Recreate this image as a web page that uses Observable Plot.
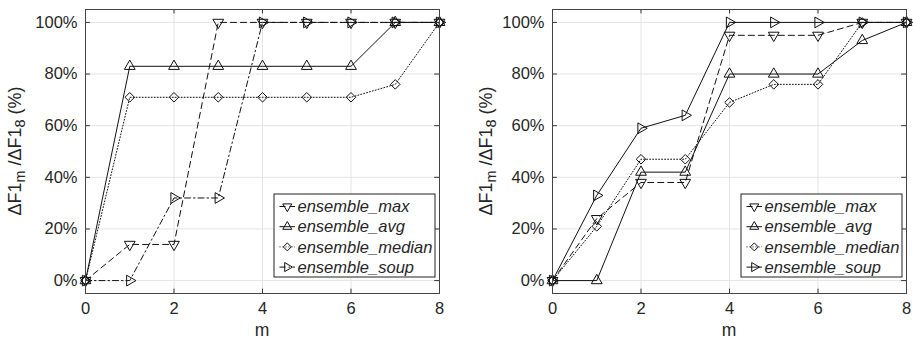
<!DOCTYPE html>
<html><head><meta charset="utf-8">
<script src="https://cdn.jsdelivr.net/npm/d3@7"></script>
<script src="https://cdn.jsdelivr.net/npm/@observablehq/plot@0.6"></script>
<style>
body{margin:0;background:#fff;}
#wrap{display:flex;width:913px;height:339px;overflow:hidden;}
</style></head><body><div id="wrap"></div>
<script>
const mValues = [0, 1, 2, 3, 4, 5, 6, 7, 8];
const seriesNames = ["ensemble_max", "ensemble_avg", "ensemble_median", "ensemble_soup"];
const leftMax    = [0, 14, 14, 100, 100, 100, 100, 100, 100];
const leftAvg    = [0, 83, 83, 83, 83, 83, 83, 100, 100];
const leftMedian = [0, 71, 71, 71, 71, 71, 71, 76, 100];
const leftSoup   = [0, 0, 32, 32, 100, 100, 100, 100, 100];
const rightMax    = [0, 24, 38, 38, 95, 95, 95, 100, 100];
const rightAvg    = [0, 0, 42, 42, 80, 80, 80, 93, 100];
const rightMedian = [0, 21, 47, 47, 69, 76, 76, 100, 100];
const rightSoup   = [0, 33, 59, 64, 100, 100, 100, 100, 100];
const xTicks = [0, 2, 4, 6, 8];
const yTicks = [0, 20, 40, 60, 80, 100];
const xLabel = "m";

const baseStyles = {
  ensemble_max:    {symbol: "triangle", rotate: 180, dash: "6,4", r: 4},
  ensemble_avg:    {symbol: "triangle", rotate: 0, dash: null, r: 4},
  ensemble_median: {symbol: "diamond2", rotate: 0, dash: "1,2", r: 4.3},
  ensemble_soup:   {symbol: "triangle", rotate: 90, dash: "6,3,1.5,3", r: 4}
};
const leftStyles = baseStyles;
const rightStyles = {...baseStyles, ensemble_soup: {...baseStyles.ensemble_soup, dash: null}};
const FONT = "'Liberation Sans', Arial, Helvetica, sans-serif";
const TXT = "#262626";

function makePanel(vals, styles, width, ml, mr, ylabX) {
  const yDom = [-5, 105], xDom = [0, 8];
  const marks = [
    Plot.gridX(xTicks, {stroke: "#e4e4e4", strokeOpacity: 1}),
    Plot.gridY(yTicks, {stroke: "#e4e4e4", strokeOpacity: 1})
  ];
  seriesNames.forEach((name, i) => {
    const data = mValues.map((m, j) => ({m, v: vals[i][j]}));
    const s = styles[name];
    marks.push(Plot.line(data, {x: "m", y: "v", stroke: "#111", strokeWidth: 1, strokeDasharray: s.dash}));
    marks.push(Plot.dot(data, {x: "m", y: "v", symbol: s.symbol, rotate: s.rotate, r: s.r, stroke: "#111", strokeWidth: 1, fill: "none"}));
  });
  marks.push(
    Plot.ruleX(xTicks, {x: d => d, y1: yDom[0], y2: yDom[0] + 1.7, stroke: "#333"}),
    Plot.ruleX(xTicks, {x: d => d, y1: yDom[1] - 1.7, y2: yDom[1], stroke: "#333"}),
    Plot.ruleY(yTicks, {y: d => d, x1: xDom[0], x2: xDom[0] + 0.11, stroke: "#333"}),
    Plot.ruleY(yTicks, {y: d => d, x1: xDom[1] - 0.11, x2: xDom[1], stroke: "#333"}),
    Plot.frame({stroke: "#444", strokeWidth: 1}),
    Plot.axisX(xTicks, {tickSize: 0, tickPadding: 9, label: null, fill: TXT}),
    Plot.axisY(yTicks, {tickSize: 0, tickPadding: 8, label: null, tickFormat: d => d + "%", fill: TXT})
  );
  const svg = Plot.plot({
    width, height: 339,
    marginLeft: ml, marginRight: mr, marginTop: 9, marginBottom: 46,
    x: {domain: xDom},
    y: {domain: yDom},
    style: {fontFamily: FONT, fontSize: "16.5px", color: TXT, background: "white", overflow: "visible"},
    marks
  });
  const xr = svg.scale("x").range, yr = svg.scale("y").range;
  const sel = d3.select(svg);
  // x label
  sel.append("text").attr("x", (xr[0] + xr[1]) / 2).attr("y", 336)
    .attr("text-anchor", "middle").attr("fill", TXT)
    .style("font-family", FONT).style("font-size", "17.5px").text(xLabel);
  // y label with subscripts
  const yl = sel.append("text")
    .attr("transform", `translate(${ylabX},${(yr[0] + yr[1]) / 2}) rotate(-90)`)
    .attr("text-anchor", "middle").attr("dominant-baseline", "central").attr("fill", TXT)
    .style("font-family", FONT).style("font-size", "18px");
  yl.append("tspan").text("ΔF1");
  yl.append("tspan").attr("dy", 5).style("font-size", "14.5px").text("m");
  yl.append("tspan").attr("dy", -5).text(" /ΔF1");
  yl.append("tspan").attr("dy", 5).style("font-size", "14.5px").text("8");
  yl.append("tspan").attr("dy", -5).text(" (%)");
  // legend
  const lw = 161, lh = 83;
  const lx = xr[1] - 4 - lw, ly = yr[0] - 16 - lh;
  const lg = sel.append("g").attr("transform", `translate(${lx},${ly})`).attr("text-anchor", "start");
  lg.append("rect").attr("width", lw).attr("height", lh).attr("fill", "white").attr("stroke", "#222").attr("stroke-width", 1);
  seriesNames.forEach((name, i) => {
    const s = styles[name];
    const cy = 12.5 + i * 20.2;
    lg.append("line").attr("x1", 5.5).attr("x2", 21).attr("y1", cy).attr("y2", cy)
      .attr("stroke", "#111").attr("stroke-width", 1).attr("stroke-dasharray", s.dash);
    const sym = s.symbol === "diamond2" ? d3.symbolDiamond2 : d3.symbolTriangle;
    lg.append("path").attr("d", d3.symbol(sym, s.r * s.r * Math.PI * 0.7)())
      .attr("transform", `translate(13.3,${cy}) rotate(${s.rotate})`)
      .attr("fill", "none").attr("stroke", "#111");
    lg.append("text").attr("x", 23.5).attr("y", cy).attr("dy", "0.35em").attr("text-anchor", "start")
      .attr("fill", TXT).style("font-family", FONT).style("font-size", "16.5px").style("font-style", "italic")
      .text(name);
  });
  return svg;
}

const wrap = document.getElementById("wrap");
wrap.appendChild(makePanel([leftMax, leftAvg, leftMedian, leftSoup], leftStyles, 456, 85, 17, 15));
wrap.appendChild(makePanel([rightMax, rightAvg, rightMedian, rightSoup], rightStyles, 457, 96, 7, 30));
</script>
</body></html>
